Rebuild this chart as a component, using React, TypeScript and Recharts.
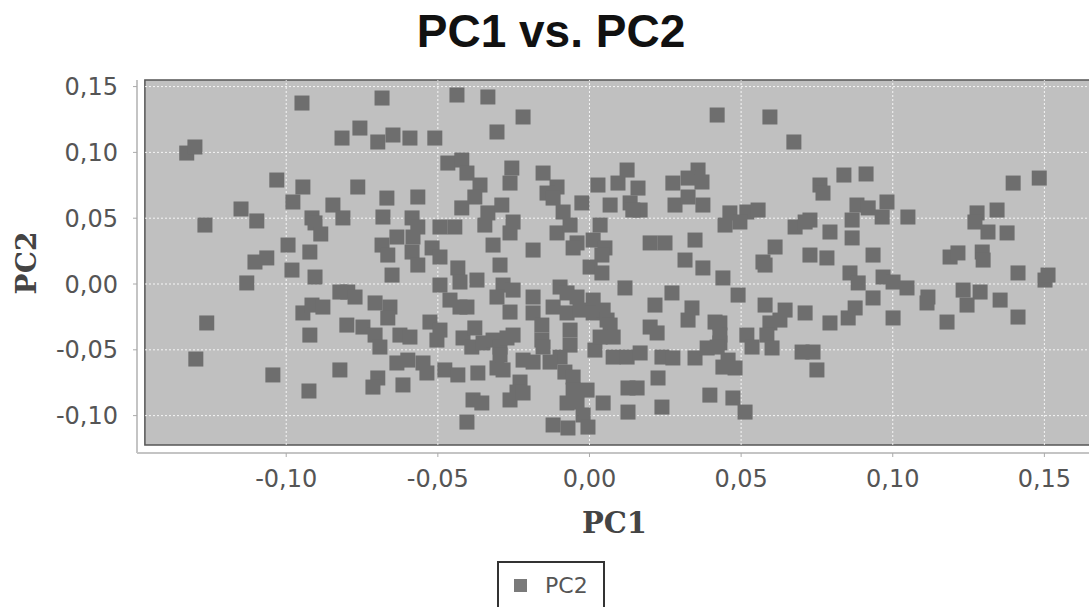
import {
  ScatterChart, Scatter, XAxis, YAxis, Legend,
  ReferenceArea, ReferenceLine,
} from 'recharts'

// PC1 / PC2 scores, grouped by region
const LEFT_POINTS: [number, number][] = [
  [-0.1328, 0.0995], [-0.1301, 0.1041], [-0.1268, 0.0448], [-0.1149, 0.0570], [-0.1097, 0.0479],
  [-0.1031, 0.0790], [-0.0948, 0.1375], [-0.0978, 0.0623], [-0.0945, 0.0737], [-0.0915, 0.0502],
  [-0.0905, 0.0464], [-0.0886, 0.0380], [-0.0846, 0.0600], [-0.0813, 0.0502], [-0.0816, 0.1109],
  [-0.0757, 0.1185], [-0.0764, 0.0737], [-0.0994, 0.0296], [-0.0922, 0.0243], [-0.1103, 0.0167],
  [-0.1064, 0.0198], [-0.0981, 0.0106], [-0.1130, 0.0008], [-0.0905, 0.0053], [-0.1262, -0.0296],
  [-0.1298, -0.0570], [-0.1044, -0.0691], [-0.0925, -0.0813], [-0.0823, -0.0653], [-0.0922, -0.0388],
  [-0.0945, -0.0220], [-0.0915, -0.0160], [-0.0879, -0.0175], [-0.0823, -0.0061], [-0.0797, -0.0061],
  [-0.0773, -0.0099], [-0.0800, -0.0312], [-0.0747, -0.0327],
]

const UPPER_MID_POINTS: [number, number][] = [
  [-0.0684, 0.1413], [-0.0437, 0.1436], [-0.0335, 0.1421], [-0.0219, 0.1269], [0.0421, 0.1284],
  [-0.0698, 0.1079], [-0.0648, 0.1132], [-0.0592, 0.1109], [-0.0510, 0.1109], [-0.0305, 0.1155],
  [-0.0467, 0.0919], [-0.0421, 0.0942], [-0.0404, 0.0843], [-0.0361, 0.0752], [-0.0378, 0.0661],
  [-0.0256, 0.0881], [-0.0262, 0.0767], [-0.0153, 0.0843], [-0.0107, 0.0737], [-0.0140, 0.0691],
  [-0.0120, 0.0653], [0.0028, 0.0752], [0.0124, 0.0866], [0.0094, 0.0767], [0.0160, 0.0729],
  [0.0275, 0.0767], [0.0358, 0.0866], [0.0325, 0.0805], [0.0371, 0.0775], [-0.0025, 0.0616],
  [0.0068, 0.0600], [0.0134, 0.0616], [0.0167, 0.0562], [0.0143, 0.0562], [0.0282, 0.0600],
  [0.0325, 0.0661], [0.0374, 0.0600], [-0.0668, 0.0653], [-0.0566, 0.0661], [-0.0681, 0.0509],
  [-0.0585, 0.0502], [-0.0566, 0.0433], [-0.0493, 0.0433], [-0.0444, 0.0433], [-0.0421, 0.0578],
  [-0.0335, 0.0540], [-0.0289, 0.0600], [-0.0345, 0.0448], [-0.0252, 0.0471], [-0.0262, 0.0388],
  [-0.0107, 0.0388], [-0.0087, 0.0547], [-0.0064, 0.0448], [0.0035, 0.0448], [0.0012, 0.0334],
  [-0.0041, 0.0312], [-0.0054, 0.0274], [0.0051, 0.0274], [0.0041, 0.0220], [0.0200, 0.0312],
  [0.0249, 0.0312], [0.0348, 0.0334], [0.0315, 0.0182], [0.0447, 0.0448], [0.0463, 0.0540],
  [-0.0635, 0.0357], [-0.0684, 0.0296], [-0.0665, 0.0220], [-0.0582, 0.0357], [-0.0585, 0.0243],
  [-0.0519, 0.0274], [-0.0493, 0.0205], [-0.0318, 0.0296], [-0.0186, 0.0258], [-0.0566, 0.0144],
  [-0.0434, 0.0122], [-0.0295, 0.0144], [0.0002, 0.0129], [0.0374, 0.0122],
]

const UPPER_RIGHT_POINTS: [number, number][] = [
  [0.0595, 0.1269], [0.0674, 0.1079], [0.0839, 0.0828], [0.0912, 0.0836], [0.0760, 0.0752],
  [0.0770, 0.0691], [0.0882, 0.0600], [0.0919, 0.0578], [0.0981, 0.0623], [0.0965, 0.0509],
  [0.1050, 0.0509], [0.0866, 0.0486], [0.0866, 0.0350], [0.0793, 0.0395], [0.0727, 0.0486],
  [0.0678, 0.0433], [0.0711, 0.0471], [0.0519, 0.0547], [0.0556, 0.0562], [0.0496, 0.0471],
  [0.0612, 0.0281], [0.0572, 0.0167], [0.0727, 0.0220], [0.0783, 0.0198], [0.0935, 0.0220],
  [0.1189, 0.0205], [0.1215, 0.0236], [0.1295, 0.0243], [0.1298, 0.0182], [0.1278, 0.0540],
  [0.1271, 0.0471], [0.1344, 0.0562], [0.1314, 0.0395], [0.1377, 0.0388], [0.1397, 0.0767],
  [0.1483, 0.0805],
]

const LOWER_RIGHT_POINTS: [number, number][] = [
  [0.0579, 0.0144], [0.0440, 0.0046], [0.0490, -0.0084], [0.0579, -0.0160], [0.0645, -0.0198],
  [0.0628, -0.0274], [0.0711, -0.0220], [0.0595, -0.0296], [0.0793, -0.0296], [0.0853, -0.0258],
  [0.0876, -0.0182], [0.0859, 0.0084], [0.0886, 0.0008], [0.0935, -0.0106], [0.0968, 0.0053],
  [0.1001, 0.0015], [0.1047, -0.0030], [0.1116, -0.0099], [0.1113, -0.0144], [0.1001, -0.0258],
  [0.1179, -0.0289], [0.1232, -0.0046], [0.1288, -0.0061], [0.1245, -0.0160], [0.1354, -0.0122],
  [0.1413, -0.0251], [0.1413, 0.0084], [0.1502, 0.0030], [0.1512, 0.0068], [0.0430, -0.0296],
  [0.0430, -0.0448], [0.0457, -0.0578], [0.0480, -0.0638], [0.0519, -0.0388], [0.0536, -0.0479],
  [0.0585, -0.0388], [0.0602, -0.0486], [0.0701, -0.0517], [0.0737, -0.0517], [0.0750, -0.0653],
  [0.0473, -0.0866], [0.0513, -0.0973], [0.0430, -0.0388],
]

const LOWER_MID_POINTS: [number, number][] = [
  [-0.0651, 0.0068], [-0.0493, -0.0008], [-0.0427, 0.0015], [-0.0371, 0.0030], [-0.0285, -0.0008],
  [-0.0252, -0.0046], [-0.0305, -0.0099], [-0.0460, -0.0122], [-0.0427, -0.0175], [-0.0404, -0.0175],
  [-0.0262, -0.0213], [-0.0186, -0.0099], [-0.0186, -0.0220], [-0.0097, -0.0023], [-0.0074, -0.0068],
  [-0.0041, -0.0099], [0.0012, -0.0122], [0.0041, 0.0084], [0.0117, -0.0030], [-0.0120, -0.0175],
  [-0.0074, -0.0220], [-0.0031, -0.0198], [0.0012, -0.0220], [0.0045, -0.0198], [0.0058, -0.0274],
  [0.0068, -0.0312], [0.0200, -0.0327], [0.0223, -0.0372], [0.0216, -0.0160], [0.0272, -0.0068],
  [0.0338, -0.0182], [0.0325, -0.0274], [0.0414, -0.0289], [-0.0707, -0.0144], [-0.0658, -0.0175],
  [-0.0665, -0.0258], [-0.0707, -0.0388], [-0.0691, -0.0479], [-0.0625, -0.0388], [-0.0592, -0.0403],
  [-0.0526, -0.0289], [-0.0493, -0.0350], [-0.0503, -0.0426], [-0.0417, -0.0410], [-0.0378, -0.0334],
  [-0.0388, -0.0479], [-0.0351, -0.0448], [-0.0318, -0.0426], [-0.0295, -0.0479], [-0.0272, -0.0410],
  [-0.0252, -0.0388], [-0.0157, -0.0312], [-0.0157, -0.0426], [-0.0153, -0.0479], [-0.0064, -0.0350],
  [-0.0064, -0.0464], [-0.0097, -0.0555], [-0.0130, -0.0593], [-0.0186, -0.0593], [-0.0219, -0.0578],
  [-0.0295, -0.0540], [0.0018, -0.0502], [0.0035, -0.0403], [0.0078, -0.0403], [0.0078, -0.0555],
  [0.0124, -0.0555], [0.0167, -0.0524], [0.0239, -0.0555], [0.0275, -0.0562], [0.0348, -0.0562],
  [0.0388, -0.0486], [0.0421, -0.0479], [0.0440, -0.0631], [-0.0635, -0.0600], [-0.0599, -0.0578],
  [-0.0549, -0.0600], [-0.0536, -0.0676], [-0.0477, -0.0653], [-0.0434, -0.0691], [-0.0368, -0.0676],
  [-0.0305, -0.0638], [-0.0285, -0.0653], [-0.0698, -0.0714], [-0.0714, -0.0783], [-0.0615, -0.0767],
  [-0.0229, -0.0745], [-0.0239, -0.0821], [-0.0262, -0.0881], [-0.0219, -0.0828], [-0.0384, -0.0881],
  [-0.0355, -0.0904], [-0.0404, -0.1049], [-0.0081, -0.0669], [-0.0054, -0.0707], [-0.0054, -0.0806],
  [-0.0008, -0.0806], [-0.0074, -0.0904], [-0.0041, -0.0897], [-0.0021, -0.0995], [-0.0120, -0.1071],
  [-0.0071, -0.1094], [-0.0005, -0.1087], [0.0045, -0.0904], [0.0127, -0.0790], [0.0157, -0.0790],
  [0.0127, -0.0973], [0.0226, -0.0714], [0.0239, -0.0935], [0.0397, -0.0844],
]

const X_TICKS = [-0.1, -0.05, 0, 0.05, 0.1, 0.15]
const Y_TICKS = [-0.1, -0.05, 0, 0.05, 0.1, 0.15]
const X_DOMAIN: [number, number] = [-0.1492, 0.1657]
const Y_DOMAIN: [number, number] = [-0.1284, 0.1550]
// inner (grey) plot rectangle sits a few px inside the axes
const PLOT_X0 = -0.1466
const PLOT_Y0 = -0.1223

const data = [
  ...LEFT_POINTS, ...UPPER_MID_POINTS, ...UPPER_RIGHT_POINTS,
  ...LOWER_RIGHT_POINTS, ...LOWER_MID_POINTS,
].map(([pc1, pc2]) => ({ pc1, pc2 }))

const PLOT_BG = '#c0c0c0'
const POINT = '#6e6e6e'
const AXIS = '#c4c4c4'
const MARK = 15
const TICK_STYLE = { fontSize: 24, fill: '#555', fontFamily: 'DejaVu Sans' }
const LABEL_FONT = 'DejaVu Serif'

const fmt = (v: number) => v.toFixed(2).replace('.', ',')

const SquareMark = (p: any) => (
  <rect x={p.cx - MARK / 2} y={p.cy - MARK / 2} width={MARK} height={MARK} fill={POINT} />
)

function LegendBox() {
  return (
    <div
      style={{
        boxSizing: 'border-box', height: 48, border: '2px solid #333',
        display: 'flex', alignItems: 'center', background: '#fff',
      }}
    >
      <span style={{ width: 13, height: 13, background: '#7a7a7a', marginLeft: 15 }} />
      <span style={{ marginLeft: 18, fontSize: 22, color: '#555', fontFamily: 'DejaVu Sans' }}>PC2</span>
    </div>
  )
}

export default function App() {
  return (
    <div
      style={{
        position: 'absolute', left: 0, top: 0, width: 1089, height: 607,
        overflow: 'hidden', background: '#fff',
      }}
    >
      <div
        style={{
          position: 'absolute', left: 0, top: 8, width: 1102, textAlign: 'center',
          fontFamily: 'Liberation Sans', fontWeight: 'bold', fontSize: 46,
          lineHeight: '46px', color: '#111',
        }}
      >
        PC1 vs. PC2
      </div>

      <ScatterChart width={1100} height={607} margin={{ top: 80, right: 8, bottom: 74, left: 0 }}>
        <XAxis
          type="number"
          dataKey="pc1"
          domain={X_DOMAIN}
          allowDataOverflow
          ticks={X_TICKS}
          tickFormatter={fmt}
          tick={TICK_STYLE}
          tickSize={4}
          tickMargin={13}
          axisLine={{ stroke: AXIS, strokeWidth: 2 }}
          tickLine={{ stroke: '#aaa' }}
          height={80}
          label={{
            content: ({ viewBox }: any) => (
              <text
                x={viewBox.x + viewBox.width / 2}
                y={viewBox.y + viewBox.height}
                textAnchor="middle"
                fontFamily={LABEL_FONT}
                fontWeight="bold"
                fontSize={29}
                fill="#444"
              >
                PC1
              </text>
            ),
          }}
        />
        <YAxis
          type="number"
          dataKey="pc2"
          domain={Y_DOMAIN}
          allowDataOverflow
          ticks={Y_TICKS}
          tickFormatter={fmt}
          tick={TICK_STYLE}
          tickSize={4}
          tickMargin={15}
          axisLine={{ stroke: AXIS, strokeWidth: 2 }}
          tickLine={{ stroke: '#aaa' }}
          width={137}
          label={{
            content: () => {
              const cx = 26
              const cy = 263
              return (
                <text
                  x={cx}
                  y={cy}
                  dy="0.36em"
                  transform={`rotate(-90, ${cx}, ${cy})`}
                  textAnchor="middle"
                  fontFamily={LABEL_FONT}
                  fontWeight="bold"
                  fontSize={28}
                  fill="#444"
                >
                  PC2
                </text>
              )
            },
          }}
        />

        <ReferenceArea
          x1={PLOT_X0} x2={X_DOMAIN[1]} y1={PLOT_Y0} y2={Y_DOMAIN[1]}
          fill={PLOT_BG} fillOpacity={1} stroke="none" ifOverflow="visible"
        />
        {X_TICKS.map((v) => (
          <ReferenceLine key={'x' + v} x={v} stroke="#fff" strokeOpacity={0.85} strokeDasharray="2 2" />
        ))}
        {Y_TICKS.map((v) => (
          <ReferenceLine key={'y' + v} y={v} stroke="#fff" strokeOpacity={0.85} strokeDasharray="2 2" />
        ))}
        <ReferenceArea
          x1={PLOT_X0} x2={X_DOMAIN[1]} y1={PLOT_Y0} y2={Y_DOMAIN[1]}
          fill="none" stroke="#555" strokeWidth={1.5} ifOverflow="visible"
        />

        <Scatter
          name="PC2"
          data={data}
          fill={POINT}
          shape={SquareMark}
          isAnimationActive={false}
        />

        <Legend
          layout="horizontal"
          verticalAlign="middle"
          align="center"
          wrapperStyle={{ left: 497, top: 561, width: 108, height: 48 }}
          content={() => <LegendBox />}
        />
      </ScatterChart>
    </div>
  )
}
